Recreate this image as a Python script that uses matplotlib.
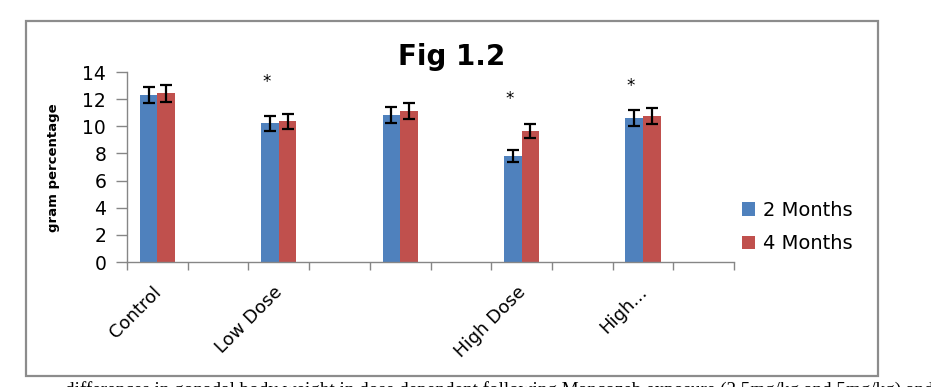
import numpy as np
import matplotlib.pyplot as plt
import matplotlib.transforms as mtransforms
from matplotlib.patches import Rectangle

# Excel-style chart with blank category slots between the groups
categories = ["Control", "", "Low Dose", "", "", "", "High Dose", "", "High...", ""]
nan = np.nan
months2 = [12.28, nan, 10.22, nan, 10.83, nan, 7.83, nan, 10.63, nan]
months4 = [12.43, nan, 10.37, nan, 11.13, nan, 9.65, nan, 10.78, nan]
err2 = [0.6, nan, 0.54, nan, 0.58, nan, 0.45, nan, 0.6, nan]
err4 = [0.62, nan, 0.54, nan, 0.6, nan, 0.5, nan, 0.6, nan]
star_heights = [nan, nan, 13.3, nan, nan, nan, 12.0, nan, 12.95, nan]
series_names = ["2 Months", "4 Months"]

blue = "#4F81BD"
red = "#C0504D"
grey = "#868686"

fig = plt.figure(figsize=(9.31, 3.87), dpi=100)
fig.patch.set_facecolor("white")

# outer chart border
fig.patches.append(Rectangle((26 / 931, 1 - 376 / 387), 852 / 931, 355 / 387,
                             transform=fig.transFigure, fill=False,
                             edgecolor="#8c8c8c", linewidth=1.6))

ax = fig.add_axes([127 / 931, 1 - 262 / 387, 607 / 931, 190 / 387])

x = np.arange(len(categories))
w = 0.29
ax.bar(x - w / 2, months2, w, color=blue, label=series_names[0])
ax.bar(x + w / 2, months4, w, color=red, label=series_names[1])
ax.errorbar(x - w / 2, months2, yerr=err2, fmt="none", ecolor="black",
            elinewidth=1.6, capsize=4, capthick=1.6)
ax.errorbar(x + w / 2, months4, yerr=err4, fmt="none", ecolor="black",
            elinewidth=1.6, capsize=4, capthick=1.6)

for xi, h in zip(x, star_heights):
    if not np.isnan(h):
        ax.text(xi - 0.2, h, "*", ha="center", va="center", fontsize=12)

ax.set_xlim(-0.5, len(categories) - 0.5)
ax.set_ylim(0, 14)
ax.set_yticks(np.arange(0, 15, 2))
ax.set_xticks(x)
ax.set_xticklabels(categories, rotation=45, ha="right", rotation_mode="anchor",
                   fontsize=13)
ax.set_xticks(np.arange(-0.5, len(categories), 1), minor=True)
ax.tick_params(axis="x", which="major", length=0, pad=15)
ax.tick_params(axis="x", which="minor", length=6, color=grey, width=1)
ax.tick_params(axis="y", length=8, color=grey, width=1, labelsize=13.5, pad=7)

# nudge the slanted labels a little to the left, like Excel does
shift = mtransforms.ScaledTranslation(-5 / 100, 0, fig.dpi_scale_trans)
for lab in ax.get_xticklabels():
    lab.set_transform(lab.get_transform() + shift)

for s in ["top", "right"]:
    ax.spines[s].set_visible(False)
for s in ["left", "bottom"]:
    ax.spines[s].set_color(grey)
    ax.spines[s].set_linewidth(1)

leg = fig.legend(loc="center left", bbox_to_anchor=(724 / 931, 1 - 227 / 387),
                 frameon=False, fontsize=14, handlelength=0.7,
                 handleheight=0.7, handletextpad=0.4, labelspacing=0.75)

fig.text(452 / 931, 1 - 57 / 387, "Fig 1.2", ha="center", va="center",
         fontsize=20, fontweight="bold")
fig.text(53 / 931, 1 - 168 / 387, "gram percentage", rotation=90,
         ha="center", va="center", fontsize=9.5, fontweight="bold")

# clipped line of the page text underneath the chart
fig.text(65 / 931, 1 - 395 / 387,
         "differences in gonadal body weight in dose dependent following Mancozeb exposure (2.5mg/kg and 5mg/kg) and M",
         family="Liberation Serif", fontsize=13.8, va="baseline")

fig.savefig("out.png", dpi=100)
